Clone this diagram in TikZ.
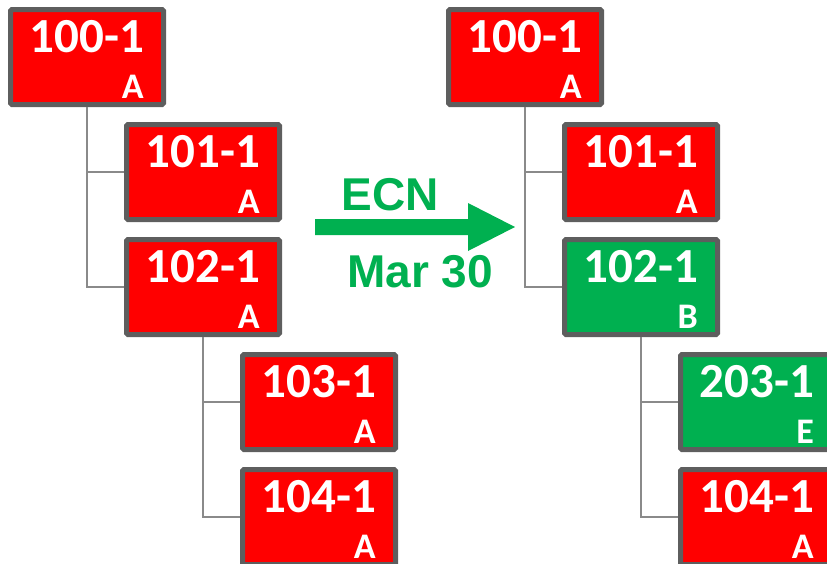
\documentclass[tikz,border=0pt]{standalone}
\usepackage{fontspec}
\newfontfamily\boxfont{Carlito}
\newfontfamily\arialfont{Liberation Sans}
\definecolor{bred}{HTML}{FF0000}
\definecolor{bgreen}{HTML}{00B050}
\definecolor{bborder}{HTML}{5E5E5E}
\definecolor{conn}{HTML}{8A8A8A}
\tikzset{
  partbox/.style={draw=bborder, line width=5pt, rounded corners=1.5pt, minimum width=153pt, minimum height=95pt, inner sep=0pt},
  redbox/.style={partbox, fill=bred},
  greenbox/.style={partbox, fill=bgreen},
  partnum/.style={anchor=base, text=white, inner sep=0pt, font=\boxfont\bfseries\fontsize{49}{50}\selectfont},
  partrev/.style={anchor=base east, text=white, inner sep=0pt, font=\boxfont\bfseries\fontsize{36}{38}\selectfont},
  conline/.style={draw=conn, line width=2pt},
  ecntext/.style={anchor=base, text=bgreen, inner sep=0pt, font=\arialfont\bfseries\fontsize{46}{48}\selectfont}
}
\newcommand{\partnode}[5]{%
  \node[#2] (#1) at (#3) {};
  \node[partnum] (#1n) at ($(#1.center)+(0,-5)$) {#4};
  \node[partrev] (#1r) at ($(#1.center)+(57,41)$) {#5};
}
\usetikzlibrary{calc}
\begin{document}
\begin{tikzpicture}[x=1pt, y=-1pt]
\useasboundingbox (0,0) rectangle (827,563);
\clip (0,0) rectangle (827,563);
% connectors first
\coordinate (L0) at (87,57);
\coordinate (L1) at (203,172);
\coordinate (L2) at (203,287);
\coordinate (L3) at (319,402);
\coordinate (L4) at (319,517);
\coordinate (R0) at (525,57);
\coordinate (R1) at (641,172);
\coordinate (R2) at (641,287);
\coordinate (R3) at (757,402);
\coordinate (R4) at (757,517);
% left tree
\partnode{a0}{redbox}{L0}{100-1}{A}
\partnode{a1}{redbox}{L1}{101-1}{A}
\partnode{a2}{redbox}{L2}{102-1}{A}
\partnode{a3}{redbox}{L3}{103-1}{A}
\partnode{a4}{redbox}{L4}{104-1}{A}
% right tree
\partnode{b0}{redbox}{R0}{100-1}{A}
\partnode{b1}{redbox}{R1}{101-1}{A}
\partnode{b2}{greenbox}{R2}{102-1}{B}
\partnode{b3}{greenbox}{R3}{203-1}{E}
\partnode{b4}{redbox}{R4}{104-1}{A}
% connectors
\begin{scope}[conline]
\draw (a0.south) |- (a1.west);
\draw (a0.south) |- (a2.west);
\draw (a2.south) |- (a3.west);
\draw (a2.south) |- (a4.west);
\draw (b0.south) |- (b1.west);
\draw (b0.south) |- (b2.west);
\draw (b2.south) |- (b3.west);
\draw (b2.south) |- (b4.west);
\end{scope}
% ECN arrow
\fill[bgreen] (315,219) -- (468,219) -- (468,203) -- (515,227) -- (468,251) -- (468,235) -- (315,235) -- cycle;
\node[ecntext] (ecn) at (390.5,210) {ECN};
\node[ecntext] (date) at (420,287) {Mar 30};
\end{tikzpicture}
\end{document}
